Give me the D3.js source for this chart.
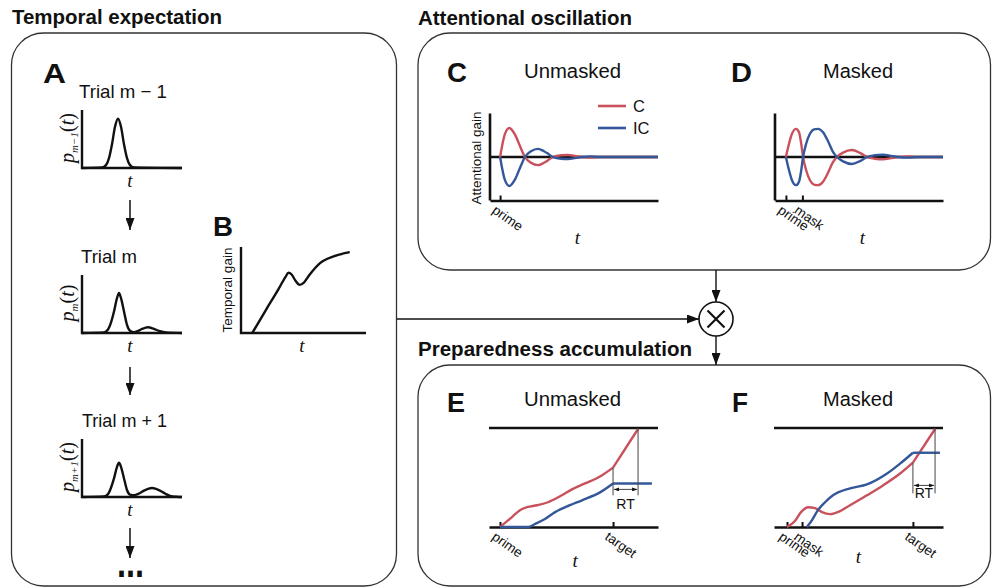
<!DOCTYPE html>
<html>
<head>
<meta charset="utf-8">
<script src="https://cdn.jsdelivr.net/npm/d3@7"></script>
<style>
body { margin: 0; background: #fff; }
svg { display: block; }
</style>
</head>
<body>
<svg></svg>
<script>
const [width, height] = [992, 587];
const red = '#c9515c';
const blue = '#34579a';
const ink = '#111';
const sans = "'Liberation Sans', Arial, Helvetica, sans-serif";
const serif = "'Liberation Serif', 'Times New Roman', serif";

// A: expectation density, one per trial
const trialLabels = ['Trial m \u2212 1', 'Trial m', 'Trial m + 1'];
const trialSubs = ['m\u22121', 'm', 'm+1'];
const prevT = [0, 20, 24, 27, 30, 33, 36, 39, 42, 45, 48, 52, 100];
const prevP = [0, 0.01, 0.05, 0.17, 0.41, 0.71, 0.85, 0.71, 0.41, 0.17, 0.05, 0.01, 0];
const curT = [0, 22, 26, 29, 32, 35, 37, 39, 42, 45, 48, 52, 56, 60, 66, 72, 78, 84, 100];
const curP = [0, 0.01, 0.06, 0.18, 0.37, 0.6, 0.69, 0.6, 0.37, 0.14, 0.04, 0.015, 0.035, 0.07, 0.1, 0.07, 0.03, 0.01, 0];
const nextT = [0, 22, 26, 29, 32, 35, 37, 39, 42, 45, 48, 52, 57, 62, 66, 70, 74, 78, 83, 88, 95, 100];
const nextP = [0, 0.01, 0.05, 0.16, 0.32, 0.52, 0.59, 0.52, 0.32, 0.12, 0.04, 0.03, 0.06, 0.11, 0.14, 0.155, 0.14, 0.11, 0.06, 0.02, 0.005, 0];

// B: temporal gain
const gainT = [9, 20, 30, 35.5, 38, 40.5, 43.5, 47, 50.5, 55, 63, 74, 87];
const gainV = [0, 0.27, 0.51, 0.65, 0.70, 0.68, 0.61, 0.56, 0.59, 0.68, 0.81, 0.89, 0.94];

// C: attentional gain, unmasked
const oscUnmaskedT = [6, 8.9, 11.5, 14.9, 17.9, 20.8, 24.4, 28.6, 32.1, 35.1, 37.5, 42.3, 46.4, 51.2, 54.8, 60, 66, 100];
const oscUnmaskedC = [0, 0.8, 1.0, 0.77, 0.37, 0, -0.2, -0.28, -0.2, -0.09, 0, 0.06, 0.07, 0.03, 0, -0.02, 0, 0];
const oscUnmaskedIC = [0, -0.8, -1.0, -0.77, -0.37, 0, 0.2, 0.28, 0.2, 0.09, 0, -0.06, -0.07, -0.03, 0, 0.02, 0, 0];
const oscUnmaskedEvents = [6];
const oscUnmaskedNames = ['prime'];

// D: attentional gain, masked
const oscMaskedT = [6.5, 8.3, 10.1, 12.5, 14.3, 15.5, 16.7, 18.5, 20.8, 23.2, 25.6, 28.6, 31.5, 34.5, 36.9, 40.5, 45.8, 50.6, 54.8, 59.5, 64.3, 69, 73.2, 79.2, 86.3, 100];
const oscMaskedC = [0, 0.45, 0.8, 0.97, 0.85, 0.5, 0, -0.45, -0.8, -0.95, -0.97, -0.85, -0.55, -0.18, 0, 0.15, 0.24, 0.14, 0, -0.06, -0.08, -0.04, 0, 0.02, 0, 0];
const oscMaskedIC = [0, -0.45, -0.8, -0.97, -0.85, -0.5, 0, 0.45, 0.8, 0.95, 0.97, 0.85, 0.55, 0.18, 0, -0.15, -0.24, -0.14, 0, 0.06, 0.08, 0.04, 0, -0.02, 0, 0];
const oscMaskedEvents = [6.5, 16.3];
const oscMaskedNames = ['prime', 'mask'];

// E: preparedness, unmasked
const accUnmaskedCT = [6.5, 13.6, 18.3, 22.5, 28.4, 34.9, 42, 49.1, 56.8, 65.7, 73.4, 88.2];
const accUnmaskedC = [0, 0.1, 0.17, 0.2, 0.22, 0.25, 0.31, 0.38, 0.44, 0.51, 0.6, 0.99];
const accUnmaskedICT = [6.5, 23.1, 27.2, 33.1, 39.1, 47.9, 55, 65.7, 73.4, 96.4];
const accUnmaskedIC = [0, 0, 0.03, 0.08, 0.15, 0.22, 0.27, 0.35, 0.44, 0.44];
const accUnmaskedEvents = [6.5, 73.4];
const accUnmaskedNames = ['prime', 'target'];

// F: preparedness, masked
const accMaskedCT = [7.7, 12.4, 16, 20.1, 24.3, 28.4, 33.1, 39.1, 45, 55, 64.5, 74.6, 82.2, 95.3];
const accMaskedC = [0, 0.06, 0.15, 0.2, 0.19, 0.15, 0.13, 0.16, 0.22, 0.32, 0.42, 0.54, 0.65, 0.99];
const accMaskedICT = [19.5, 22.5, 26, 30.2, 34.9, 45, 55, 66.9, 74.6, 82.2, 98.2];
const accMaskedIC = [0, 0.07, 0.17, 0.25, 0.32, 0.39, 0.43, 0.54, 0.64, 0.75, 0.75];
const accMaskedEvents = [7.7, 16.6, 82.2];
const accMaskedNames = ['prime', 'mask', 'target'];

const svg = d3.select('svg').attr('width', width).attr('height', height);
svg.append('rect').attr('width', width).attr('height', height).attr('fill', '#fff');

const defs = svg.append('defs');
function marker(id, w, h) {
  defs.append('marker').attr('id', id)
    .attr('viewBox', '0 0 10 10').attr('refX', 10).attr('refY', 5)
    .attr('markerWidth', w).attr('markerHeight', h)
    .attr('markerUnits', 'userSpaceOnUse')
    .attr('preserveAspectRatio', 'none')
    .attr('orient', 'auto-start-reverse')
    .append('path').attr('d', 'M0,0L10,5L0,10z').attr('fill', ink);
}
marker('head', 12, 9);
marker('tiny', 5, 4);

function text(x, y, s, o = {}) {
  const t = svg.append('text').attr('x', x).attr('y', y).text(s)
    .attr('font-family', o.family || sans)
    .attr('font-size', o.size || 14)
    .attr('font-weight', o.weight || 'normal')
    .attr('text-anchor', o.anchor || 'start')
    .attr('fill', ink);
  if (o.italic) t.attr('font-style', 'italic');
  if (o.len) t.attr('textLength', o.len).attr('lengthAdjust', 'spacingAndGlyphs');
  if (o.rotate) t.attr('transform', `rotate(${o.rotate},${x},${y})`);
  return t;
}
const italicT = (x, y) => text(x, y, 't', { family: serif, size: 19, italic: true, anchor: 'middle' });

// rounded boxes
[[11.5, 33, 396.5, 586], [418, 33, 990.5, 270], [418, 365, 990.5, 586]].forEach(([x0, y0, x1, y1]) => {
  svg.append('rect').attr('x', x0).attr('y', y0).attr('width', x1 - x0).attr('height', y1 - y0)
    .attr('rx', 32).attr('ry', 32).attr('fill', 'none').attr('stroke', '#333').attr('stroke-width', 1.3);
});

// titles
text(12, 24, 'Temporal expectation', { size: 20, weight: 'bold', len: 210 });
text(418, 25, 'Attentional oscillation', { size: 20, weight: 'bold', len: 214 });
text(418, 356, 'Preparedness accumulation', { size: 20, weight: 'bold', len: 274 });

// panel letters
text(43, 83, 'A', { size: 28, weight: 'bold', len: 23 });
text(213, 236, 'B', { size: 28, weight: 'bold', len: 20 });
text(447, 82, 'C', { size: 28, weight: 'bold', len: 20 });
text(731, 82, 'D', { size: 28, weight: 'bold', len: 21 });
text(447, 412, 'E', { size: 28, weight: 'bold', len: 18 });
text(732, 412, 'F', { size: 28, weight: 'bold', len: 16 });

// ---- A ----
const trialT = [prevT, curT, nextT];
const trialP = [prevP, curP, nextP];
const trialBottoms = [168, 333, 497];
const trialLabelX = [79, 81, 82];
const trialLabelLen = [88, 56, 85];
trialT.forEach((ts, i) => {
  const b = trialBottoms[i];
  const x = d3.scaleLinear().domain([0, 100]).range([82, 182]);
  const y = d3.scaleLinear().domain([0, 1]).range([b, b - 58]);
  text(trialLabelX[i], b - 70, trialLabels[i], { size: 18.5, len: trialLabelLen[i] });
  svg.append('path')
    .attr('d', `M${x(0)},${y(1)}V${y(0)}H${x(100)}`)
    .attr('fill', 'none').attr('stroke', ink).attr('stroke-width', 2.4);
  svg.append('path').datum(d3.zip(ts, trialP[i]))
    .attr('d', d3.line().x(d => x(d[0])).y(d => y(d[1])).curve(d3.curveMonotoneX))
    .attr('fill', 'none').attr('stroke', ink).attr('stroke-width', 2.4);
  italicT(x(48), b + 19);
  const pl = svg.append('text')
    .attr('transform', `translate(74,${b - 30}) rotate(-90)`)
    .attr('text-anchor', 'middle').attr('font-family', serif).attr('font-size', 20).attr('fill', ink);
  pl.append('tspan').attr('font-style', 'italic').text('p');
  pl.append('tspan').attr('font-size', 11).attr('dy', 4).attr('font-style', 'italic').text(trialSubs[i]);
  pl.append('tspan').attr('dy', -4).text('(');
  pl.append('tspan').attr('font-style', 'italic').text('t');
  pl.append('tspan').text(')');
});
[[200, 230], [367, 395], [528, 558]].forEach(([y0, y1]) => {
  svg.append('line').attr('x1', 130).attr('x2', 130).attr('y1', y0).attr('y2', y1)
    .attr('stroke', ink).attr('stroke-width', 1.5).attr('marker-end', 'url(#head)');
});
text(117, 577, '...', { size: 42, weight: 'bold', len: 27 });

// ---- B ----
{
  const x = d3.scaleLinear().domain([0, 100]).range([241, 366]);
  const y = d3.scaleLinear().domain([0, 1]).range([333, 247]);
  svg.append('path').attr('d', `M${x(0)},${y(1)}V${y(0)}H${x(100)}`)
    .attr('fill', 'none').attr('stroke', ink).attr('stroke-width', 2.4);
  svg.append('path').datum(d3.zip(gainT, gainV))
    .attr('d', d3.line().x(d => x(d[0])).y(d => y(d[1])).curve(d3.curveMonotoneX))
    .attr('fill', 'none').attr('stroke', ink).attr('stroke-width', 2.4);
  text(232, 290, 'Temporal gain', { size: 13.5, anchor: 'middle', rotate: -90 });
  italicT(302, 352);
}

// ---- C, D ----
function eventAxis(g, x, events, names) {
  const ax = g.call(d3.axisBottom(x).tickValues(events).tickSize(-5).tickSizeOuter(0)
    .tickFormat((d, i) => names[i]));
  ax.select('.domain').attr('stroke', ink).attr('stroke-width', 2.6);
  ax.selectAll('.tick line').attr('stroke', ink).attr('stroke-width', 2);
  ax.selectAll('.tick text')
    .attr('font-family', sans).attr('font-size', 13.5).attr('fill', ink)
    .attr('text-anchor', 'start').attr('x', -1).attr('y', 15).attr('dy', null)
    .attr('transform', 'rotate(35)');
}

function oscPanel(x0, ts, cs, ics, events, names) {
  const x = d3.scaleLinear().domain([0, 100]).range([x0, x0 + 168]);
  const y = d3.scaleLinear().domain([-1.5, 1.5]).range([200.5, 113.5]);
  svg.append('line').attr('x1', x(0)).attr('x2', x(0)).attr('y1', y(1.5)).attr('y2', y(-1.5))
    .attr('stroke', ink).attr('stroke-width', 2.6);
  eventAxis(svg.append('g').attr('transform', `translate(0,${y(-1.5)})`), x, events, names);
  svg.append('line').attr('x1', x(0)).attr('x2', x(100)).attr('y1', y(0)).attr('y2', y(0))
    .attr('stroke', ink).attr('stroke-width', 2.6);
  const line = d3.line().x(d => x(d[0])).y(d => y(d[1])).curve(d3.curveMonotoneX);
  svg.append('path').datum(d3.zip(ts, cs)).attr('d', line)
    .attr('fill', 'none').attr('stroke', red).attr('stroke-width', 2.4);
  svg.append('path').datum(d3.zip(ts, ics)).attr('d', line)
    .attr('fill', 'none').attr('stroke', blue).attr('stroke-width', 2.4);
  italicT(x(52), 244);
}
oscPanel(490, oscUnmaskedT, oscUnmaskedC, oscUnmaskedIC, oscUnmaskedEvents, oscUnmaskedNames);
oscPanel(775, oscMaskedT, oscMaskedC, oscMaskedIC, oscMaskedEvents, oscMaskedNames);
text(524, 78, 'Unmasked', { size: 20, len: 97 });
text(823, 78, 'Masked', { size: 20, len: 70 });
text(481, 158, 'Attentional gain', { size: 13.5, anchor: 'middle', rotate: -90 });

// legend
[['C', red, 106], ['IC', blue, 128]].forEach(([name, color, ly]) => {
  svg.append('line').attr('x1', 598).attr('x2', 626).attr('y1', ly).attr('y2', ly)
    .attr('stroke', color).attr('stroke-width', 2.6);
  text(633, ly + 6, name, { size: 16.5 });
});

// ---- E, F ----
function accPanel(x0, cT, cV, icT, icV, events, names, target, rt) {
  const x = d3.scaleLinear().domain([0, 100]).range([x0, x0 + 169]);
  const y = d3.scaleLinear().domain([0, 1]).range([527, 428]);
  svg.append('line').attr('x1', x(0)).attr('x2', x(100)).attr('y1', y(1)).attr('y2', y(1))
    .attr('stroke', ink).attr('stroke-width', 2.6);
  eventAxis(svg.append('g').attr('transform', `translate(0,${y(0)})`), x, events, names);

  const smooth = d3.line().x(d => x(d[0])).y(d => y(d[1])).curve(d3.curveMonotoneX);
  const straight = d3.line().x(d => x(d[0])).y(d => y(d[1]));
  [[cT, cV, red], [icT, icV, blue]].forEach(([ts, vs, color]) => {
    const pts = d3.zip(ts, vs);
    const g = svg.append('g').attr('fill', 'none').attr('stroke', color).attr('stroke-width', 2.4)
      .attr('stroke-linejoin', 'round');
    g.append('path').attr('d', smooth(pts.filter(d => d[0] <= target)));
    g.append('path').attr('d', straight(pts.filter(d => d[0] >= target)));
  });

  // RT bracket
  const hit = cT[cT.length - 1];
  const atTarget = cV[cT.indexOf(target)];
  const g = svg.append('g').attr('stroke', '#444').attr('stroke-width', 1);
  g.append('line').attr('x1', x(target)).attr('x2', x(target)).attr('y1', y(atTarget)).attr('y2', y(rt.low));
  g.append('line').attr('x1', x(hit)).attr('x2', x(hit)).attr('y1', y(1)).attr('y2', y(rt.low));
  g.append('line').attr('x1', x(target) + 1).attr('x2', x(hit) - 1).attr('y1', y(rt.arrow)).attr('y2', y(rt.arrow))
    .attr('marker-start', 'url(#tiny)').attr('marker-end', 'url(#tiny)');
  text((x(target) + x(hit)) / 2, y(rt.label), 'RT', { size: 14, anchor: 'middle' });
  return x;
}
const xE = accPanel(489, accUnmaskedCT, accUnmaskedC, accUnmaskedICT, accUnmaskedIC,
  accUnmaskedEvents, accUnmaskedNames, 73.4, { low: 0.32, arrow: 0.38, label: 0.18 });
const xF = accPanel(774, accMaskedCT, accMaskedC, accMaskedICT, accMaskedIC,
  accMaskedEvents, accMaskedNames, 82.2, { low: 0.34, arrow: 0.42, label: 0.29 });
text(524, 406, 'Unmasked', { size: 20, len: 97 });
text(823, 406, 'Masked', { size: 20, len: 70 });
italicT(xE(51), 567);
italicT(xF(50), 563);

// ---- connectors ----
const cx = 716, cy = 319, r = 17;
svg.append('line').attr('x1', 396.5).attr('x2', cx - r).attr('y1', cy).attr('y2', cy)
  .attr('stroke', ink).attr('stroke-width', 1.4).attr('marker-end', 'url(#head)');
svg.append('line').attr('x1', cx).attr('x2', cx).attr('y1', 270).attr('y2', cy - r)
  .attr('stroke', ink).attr('stroke-width', 1.4).attr('marker-end', 'url(#head)');
svg.append('line').attr('x1', cx).attr('x2', cx).attr('y1', cy + r).attr('y2', 365)
  .attr('stroke', ink).attr('stroke-width', 1.4).attr('marker-end', 'url(#head)');
svg.append('circle').attr('cx', cx).attr('cy', cy).attr('r', r)
  .attr('fill', '#fff').attr('stroke', ink).attr('stroke-width', 1.6);
svg.append('path').attr('d', `M${cx - 8.5},${cy - 8.5}L${cx + 8.5},${cy + 8.5}M${cx + 8.5},${cy - 8.5}L${cx - 8.5},${cy + 8.5}`)
  .attr('stroke', ink).attr('stroke-width', 2.2);
</script>
</body>
</html>
